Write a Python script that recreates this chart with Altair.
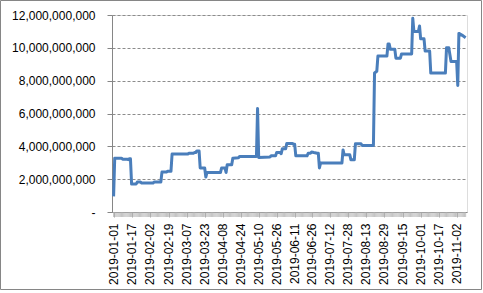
import altair as alt
import pandas as pd

# Daily series corner points (date, value in billions)
dates = [
    "2019-01-01", "2019-01-02", "2019-01-08", "2019-01-09", "2019-01-13", "2019-01-14",
    "2019-01-15", "2019-01-16", "2019-01-17", "2019-01-21", "2019-01-22", "2019-01-25",
    "2019-01-26", "2019-02-05", "2019-02-06", "2019-02-12", "2019-02-13", "2019-02-17",
    "2019-02-18", "2019-02-21", "2019-02-22", "2019-03-08", "2019-03-09", "2019-03-13",
    "2019-03-14", "2019-03-15", "2019-03-16", "2019-03-18", "2019-03-19", "2019-03-23",
    "2019-03-24", "2019-03-25", "2019-04-06", "2019-04-07", "2019-04-10", "2019-04-11",
    "2019-04-12", "2019-04-16", "2019-04-17", "2019-04-22", "2019-04-23", "2019-05-08",
    "2019-05-09", "2019-05-10", "2019-05-20", "2019-05-21", "2019-05-25", "2019-05-26",
    "2019-05-29", "2019-05-30", "2019-05-31", "2019-06-03", "2019-06-04", "2019-06-09",
    "2019-06-10", "2019-06-11", "2019-06-12", "2019-06-22", "2019-06-23", "2019-06-25",
    "2019-06-26", "2019-06-28", "2019-07-01", "2019-07-02", "2019-07-03", "2019-07-04",
    "2019-07-23", "2019-07-24", "2019-07-25", "2019-07-30", "2019-07-31", "2019-08-03",
    "2019-08-04", "2019-08-09", "2019-08-10", "2019-08-20", "2019-08-21", "2019-08-23",
    "2019-08-24", "2019-09-01", "2019-09-02", "2019-09-03", "2019-09-04", "2019-09-08",
    "2019-09-09", "2019-09-13", "2019-09-14", "2019-09-23", "2019-09-24", "2019-09-25",
    "2019-09-29", "2019-09-30", "2019-10-01", "2019-10-04", "2019-10-05", "2019-10-09",
    "2019-10-10", "2019-10-23", "2019-10-24", "2019-10-26", "2019-10-28", "2019-11-02",
    "2019-11-03", "2019-11-04", "2019-11-07", "2019-11-10",
]
values_bn = [
    0.95, 3.28, 3.28, 3.22, 3.22, 3.19,
    3.24, 3.24, 1.70, 1.70, 1.82, 1.82,
    1.76, 1.76, 1.83, 1.83, 2.43, 2.43,
    2.48, 2.48, 3.53, 3.53, 3.58, 3.58,
    3.62, 3.62, 3.72, 3.72, 2.68, 2.68,
    2.13, 2.40, 2.40, 2.68, 2.68, 2.41,
    2.88, 2.88, 3.28, 3.30, 3.38, 3.38,
    6.30, 3.32, 3.35, 3.42, 3.42, 3.63,
    3.63, 3.55, 3.85, 3.85, 4.18, 4.18,
    4.12, 4.12, 3.42, 3.42, 3.58, 3.58,
    3.65, 3.62, 3.58, 3.58, 2.68, 2.98,
    2.98, 3.78, 3.48, 3.48, 3.18, 3.18,
    4.15, 4.15, 4.05, 4.05, 8.47, 8.57,
    9.50, 9.50, 10.24, 10.24, 9.92, 9.92,
    9.37, 9.37, 9.63, 9.63, 11.80, 11.00,
    11.00, 11.33, 10.55, 10.55, 9.80, 9.80,
    8.46, 8.46, 10.00, 10.00, 9.17, 9.17,
    7.71, 10.88, 10.76, 10.62,
]

tick_labels = [
    "2019-01-01", "2019-01-17", "2019-02-02", "2019-02-19", "2019-03-07", "2019-03-23",
    "2019-04-08", "2019-04-24", "2019-05-10", "2019-05-26", "2019-06-11", "2019-06-26",
    "2019-07-12", "2019-07-28", "2019-08-13", "2019-08-29", "2019-09-15", "2019-10-01",
    "2019-10-17", "2019-11-02",
]
y_ticks = [0, 2e9, 4e9, 6e9, 8e9, 10e9, 12e9]

# every category (day) gets a tick mark, as in the original
category_days = pd.date_range("2019-01-01", "2019-11-10").strftime("%Y-%m-%d").tolist()

df = pd.DataFrame({"date": dates, "value": [v * 1e9 for v in values_bn]})
days_df = pd.DataFrame({"date": category_days})


def dt(s, hours=0):
    y, m, d = map(int, s.split("-"))
    return alt.DateTime(year=y, month=m, date=d, hours=hours, utc=True)


W, H = 355, 197
AXIS_GRAY = "#868686"
FONT = "Liberation Sans"

x_scale = alt.Scale(type="utc", domain=[dt("2018-12-30", 14), dt("2019-11-11", 5)])
x_axis = alt.Axis(
    values=[dt(s) for s in tick_labels],
    format="%Y-%m-%d",
    labelAngle=-90,
    labelFont=FONT,
    labelFontSize=12,
    labelColor="#000000",
    labelPadding=6,
    labelOverlap=False,
    labelBound=False,
    labelFlush=False,
    tickSize=5,
    tickColor="#a6a6a6",
    domainColor=AXIS_GRAY,
    grid=False,
    title=None,
)

line = alt.Chart(df).mark_line(color="#4a7ebb", strokeWidth=3, strokeJoin="round").encode(
    x=alt.X("date:T", scale=x_scale, axis=x_axis),
    y=alt.Y(
        "value:Q",
        scale=alt.Scale(domain=[0, 12e9], nice=False),
        axis=alt.Axis(
            values=y_ticks,
            labelExpr="datum.value == 0 ? '-' : format(datum.value, ',')",
            labelFont=FONT,
            labelFontSize=12,
            labelColor="#000000",
            labelPadding=12,
            tickSize=5,
            tickColor=AXIS_GRAY,
            domainColor=AXIS_GRAY,
            grid=True,
            gridColor="#8c8c8c",
            gridDash=[3, 2],
            title=None,
        ),
    ),
)

ticks = alt.Chart(days_df).mark_rule(color="#b4b4b4", strokeWidth=0.8).encode(
    x=alt.X("date:T", scale=x_scale, axis=x_axis),
    y=alt.value(H),
    y2=alt.value(H + 5),
)

border = alt.Chart(pd.DataFrame({"a": [0]})).mark_rect(
    fill="white", fillOpacity=0, stroke=AXIS_GRAY, strokeWidth=1
).encode(
    x=alt.value(-111.5),
    x2=alt.value(369.5),
    y=alt.value(-14.5),
    y2=alt.value(274.5),
)

chart = alt.layer(border, ticks, line).properties(
    width=W,
    height=H,
    padding={"left": 112, "top": 15, "right": 16, "bottom": 81},
    autosize=alt.AutoSizeParams(type="none"),
).configure_view(stroke=None).configure(background="white")

chart.save("out.html", embed_options={"renderer": "svg", "actions": False})
